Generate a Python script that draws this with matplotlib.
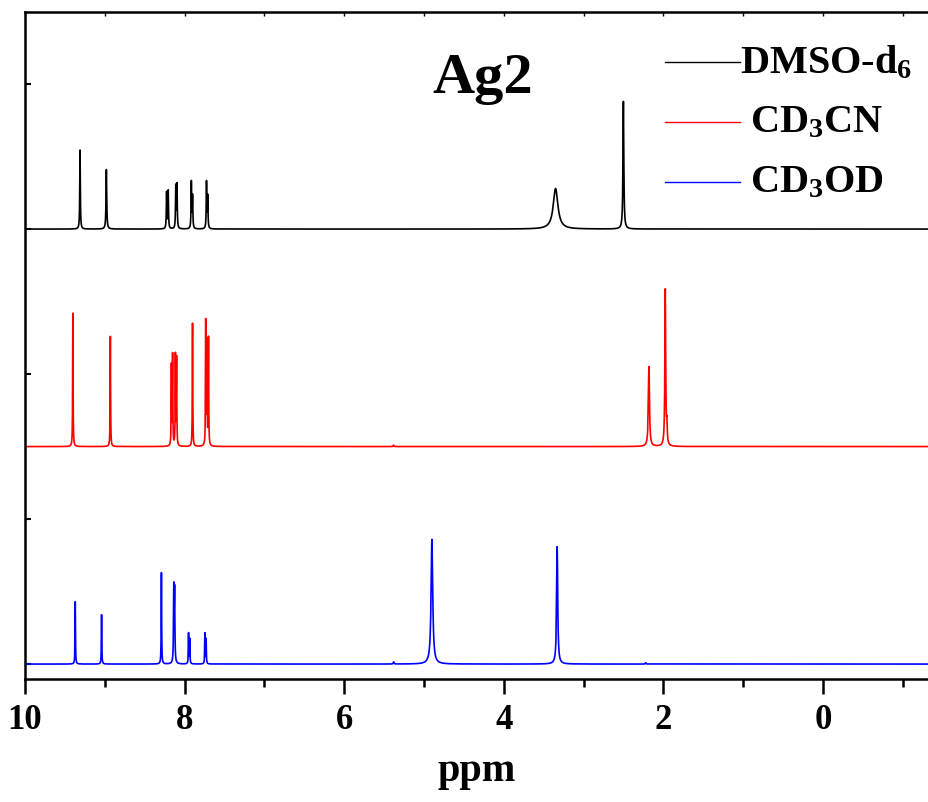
import numpy as np
import matplotlib.pyplot as plt

plt.rcParams['font.family'] = ['Liberation Serif', 'DejaVu Serif']
plt.rcParams['font.weight'] = 'bold'
plt.rcParams['mathtext.default'] = 'regular'

# peak lists (ppm, height, half-width) for each solvent
dmso_ppm = [9.31, 8.98, 8.225, 8.205, 8.11, 8.095, 7.915, 7.90, 7.725, 7.71, 3.35, 2.50]
dmso_h = [0.545, 0.41, 0.25, 0.26, 0.29, 0.30, 0.32, 0.22, 0.32, 0.22, 0.28, 0.88]
dmso_w = [0.004, 0.005, 0.004, 0.004, 0.004, 0.004, 0.004, 0.004, 0.004, 0.004, 0.035, 0.006]

cd3cn_ppm = [9.40, 8.93, 8.165, 8.15, 8.115, 8.10, 7.90, 7.735, 7.72, 7.70, 5.38, 2.18, 1.975, 1.955]
cd3cn_h = [0.92, 0.76, 0.55, 0.62, 0.62, 0.60, 0.85, 0.85, 0.70, 0.74, 0.01, 0.55, 1.08, 0.12]
cd3cn_w = [0.003, 0.003, 0.003, 0.003, 0.003, 0.003, 0.003, 0.003, 0.003, 0.003, 0.005, 0.008, 0.006, 0.005]

cd3od_ppm = [9.37, 9.04, 8.29, 8.135, 8.125, 7.95, 7.935, 7.745, 7.73, 5.38, 4.90, 3.33, 2.22]
cd3od_h = [0.43, 0.34, 0.63, 0.50, 0.48, 0.21, 0.17, 0.21, 0.17, 0.015, 0.86, 0.81, 0.01]
cd3od_w = [0.003, 0.003, 0.003, 0.004, 0.004, 0.003, 0.003, 0.003, 0.003, 0.005, 0.012, 0.008, 0.005]

offsets = [3.0, 1.5, 0.0]
labels = ['DMSO-d$_6$', 'CD$_3$CN', 'CD$_3$OD']
colors = ['black', 'red', 'blue']

x = np.arange(-1.6, 10.3, 0.0005)


def spectrum(ppm, h, w):
    y = np.zeros_like(x)
    for p, a, g in zip(ppm, h, w):
        y += a * g**2 / ((x - p)**2 + g**2)
    return y


spectra = [spectrum(dmso_ppm, dmso_h, dmso_w),
           spectrum(cd3cn_ppm, cd3cn_h, cd3cn_w),
           spectrum(cd3od_ppm, cd3od_h, cd3od_w)]

fig = plt.figure(figsize=(9.29, 8.03), dpi=100)
ax = fig.add_axes([25/929, 123/803, 1 - 25/929, 667/803])

for y, off, c, lab in zip(spectra, offsets, colors, labels):
    ax.plot(x, y + off, color=c, lw=1.2, label=lab)

ax.set_xlim(10, -1.33)
ax.set_ylim(-0.103, 4.497)

ax.spines['right'].set_visible(False)
for s in ['left', 'bottom', 'top']:
    ax.spines[s].set_linewidth(1.8)

ax.set_xticks([10, 8, 6, 4, 2, 0])
ax.set_xticks([9, 7, 5, 3, 1, -1], minor=True)
ax.tick_params(axis='x', which='major', direction='out', length=11, width=1.8,
               labelsize=25, pad=6, top=False)
ax.tick_params(axis='x', which='minor', direction='out', length=6, width=1.8, top=False)
ax.set_xticklabels(['10', '8', '6', '4', '2', '0'], fontweight='bold')

# small inward ticks on the top spine
top = ax.secondary_xaxis('top')
top.set_xticks(np.arange(10, -2, -1))
top.tick_params(direction='in', length=3, width=1.0, labeltop=False)
top.spines['top'].set_visible(False)

ax.set_yticks([0, 1, 2, 3, 4])
ax.tick_params(axis='y', direction='in', length=4, width=1.5, labelleft=False)

ax.set_xlabel('ppm', fontsize=29, fontweight='bold', labelpad=12)

fig.text(483/929, 1 - 79/803, 'Ag2', fontsize=42, fontweight='bold',
         ha='center', va='center')

# legend drawn by hand: short line plus label for each trace
for i, (c, lab) in enumerate(zip(colors, labels)):
    ypix = 803 - (63 + 60 * i)
    ax.plot([665/929, 740/929], [ypix/803, ypix/803], color=c, lw=1.0,
            transform=fig.transFigure, clip_on=False)
    xt = 740 if i == 0 else 750
    fig.text(xt/929, ypix/803, lab, fontsize=29, fontweight='bold',
             ha='left', va='center')

fig.savefig('out.png', dpi=100)
